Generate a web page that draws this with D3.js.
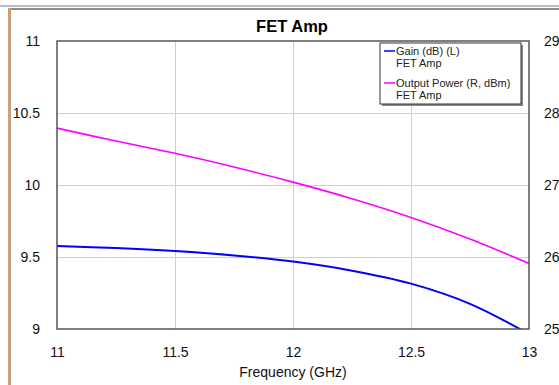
<!DOCTYPE html>
<html>
<head>
<meta charset="utf-8">
<script src="https://cdn.jsdelivr.net/npm/d3@7"></script>
<style>
  html, body { margin: 0; padding: 0; background: #fff; }
  svg { display: block; font-family: Arial, "Liberation Sans", sans-serif; }
</style>
</head>
<body>
<svg id="chart" width="559" height="385"></svg>
<script>
// Frequency sweep (GHz) and the two measured series
const freqs = [11, 11.25, 11.5, 11.75, 12, 12.25, 12.5, 12.75, 13];
const gainDb = [9.576, 9.562, 9.541, 9.511, 9.468, 9.405, 9.315, 9.175, 8.965];
const outPowerDbm = [27.79, 27.61, 27.44, 27.25, 27.04, 26.81, 26.55, 26.25, 25.91];

const xTicks = [11, 11.5, 12, 12.5, 13];
const leftTicks = [9, 9.5, 10, 10.5, 11];
const rightTicks = [25, 26, 27, 28, 29];

const chartTitle = "FET Amp";
const xTitle = "Frequency (GHz)";
const legendItems = [
  { name: "Gain (dB) (L)", sub: "FET Amp", color: "#0000ff" },
  { name: "Output Power (R, dBm)", sub: "FET Amp", color: "#ff00ff" }
];

const svg = d3.select("#chart");
const W = 559, H = 385;
const plot = { left: 57, right: 529, top: 41, bottom: 329 };

// Window frame
svg.append("rect").attr("x", 0).attr("y", 5).attr("width", W).attr("height", 2).attr("fill", "#a9c0dc");
svg.append("rect").attr("x", 8).attr("y", 8).attr("width", W - 8).attr("height", 2).attr("fill", "#9a8a7a");
svg.append("rect").attr("x", 8).attr("y", 8).attr("width", 3).attr("height", H - 8).attr("fill", "#c9a07c");

const x = d3.scaleLinear().domain([11, 13]).range([plot.left, plot.right]);
const yL = d3.scaleLinear().domain([9, 11]).range([plot.bottom, plot.top]);
const yR = d3.scaleLinear().domain([25, 29]).range([plot.bottom, plot.top]);

// Grid
const grid = svg.append("g").attr("stroke", "#cfcfcf").attr("stroke-width", 1);
xTicks.slice(1, -1).forEach(t => {
  grid.append("line").attr("x1", Math.round(x(t)) + 0.5).attr("x2", Math.round(x(t)) + 0.5)
    .attr("y1", plot.top).attr("y2", plot.bottom);
});
leftTicks.slice(1, -1).forEach(t => {
  grid.append("line").attr("y1", Math.round(yL(t)) + 0.5).attr("y2", Math.round(yL(t)) + 0.5)
    .attr("x1", plot.left).attr("x2", plot.right);
});

// Clip for data lines
svg.append("clipPath").attr("id", "plotClip").append("rect")
  .attr("x", plot.left).attr("y", plot.top)
  .attr("width", plot.right - plot.left).attr("height", plot.bottom - plot.top);

const lineL = d3.line().x((d, i) => x(freqs[i])).y(d => yL(d)).curve(d3.curveCatmullRom);
const lineR = d3.line().x((d, i) => x(freqs[i])).y(d => yR(d)).curve(d3.curveCatmullRom);

const lines = svg.append("g").attr("clip-path", "url(#plotClip)");
lines.append("path").datum(outPowerDbm).attr("d", lineR)
  .attr("fill", "none").attr("stroke", "#ff00ff").attr("stroke-width", 1.6);
lines.append("path").datum(gainDb).attr("d", lineL)
  .attr("fill", "none").attr("stroke", "#0000ff").attr("stroke-width", 2);

// Plot frame
svg.append("rect").attr("x", plot.left).attr("y", plot.top)
  .attr("width", plot.right - plot.left).attr("height", plot.bottom - plot.top)
  .attr("fill", "none").attr("stroke", "#555").attr("stroke-width", 1.5);

// Axes (labels only, ticks drawn as grid)
const axisFont = 14;
const xAxis = svg.append("g").attr("transform", `translate(0,${plot.bottom})`)
  .call(d3.axisBottom(x).tickValues(xTicks).tickSize(0).tickPadding(18).tickFormat(d3.format("")));
const yAxisL = svg.append("g").attr("transform", `translate(${plot.left},0)`)
  .call(d3.axisLeft(yL).tickValues(leftTicks).tickSize(0).tickPadding(17).tickFormat(d3.format("")));
const yAxisR = svg.append("g").attr("transform", `translate(${plot.right},0)`)
  .call(d3.axisRight(yR).tickValues(rightTicks).tickSize(0).tickPadding(15).tickFormat(d3.format("")));
[xAxis, yAxisL, yAxisR].forEach(g => {
  g.select(".domain").remove();
  g.selectAll("text").attr("font-size", axisFont).attr("fill", "#111")
    .attr("font-family", "Arial, 'Liberation Sans', sans-serif");
});

// Titles
svg.append("text").attr("x", 292).attr("y", 32).attr("text-anchor", "middle")
  .attr("font-size", 16.5).attr("font-weight", "bold").attr("fill", "#000").text(chartTitle);
svg.append("text").attr("x", 293).attr("y", 377).attr("text-anchor", "middle")
  .attr("font-size", 14).attr("fill", "#111").text(xTitle);

// Legend
const lg = { x: 380, y: 43, w: 141, h: 61 };
svg.append("rect").attr("x", lg.x + 2).attr("y", lg.y + 2).attr("width", lg.w).attr("height", lg.h).attr("fill", "#888");
svg.append("rect").attr("x", lg.x).attr("y", lg.y).attr("width", lg.w).attr("height", lg.h)
  .attr("fill", "#fff").attr("stroke", "#333").attr("stroke-width", 1);
legendItems.forEach((item, i) => {
  const cy = lg.y + 8 + i * 32;
  svg.append("line").attr("x1", lg.x + 4).attr("x2", lg.x + 15).attr("y1", cy).attr("y2", cy)
    .attr("stroke", item.color).attr("stroke-width", 1.5);
  svg.append("text").attr("x", lg.x + 16).attr("y", cy + 4).attr("font-size", 11).attr("fill", "#222").text(item.name);
  svg.append("text").attr("x", lg.x + 16).attr("y", cy + 16).attr("font-size", 11).attr("fill", "#222").text(item.sub);
});
</script>
</body>
</html>
